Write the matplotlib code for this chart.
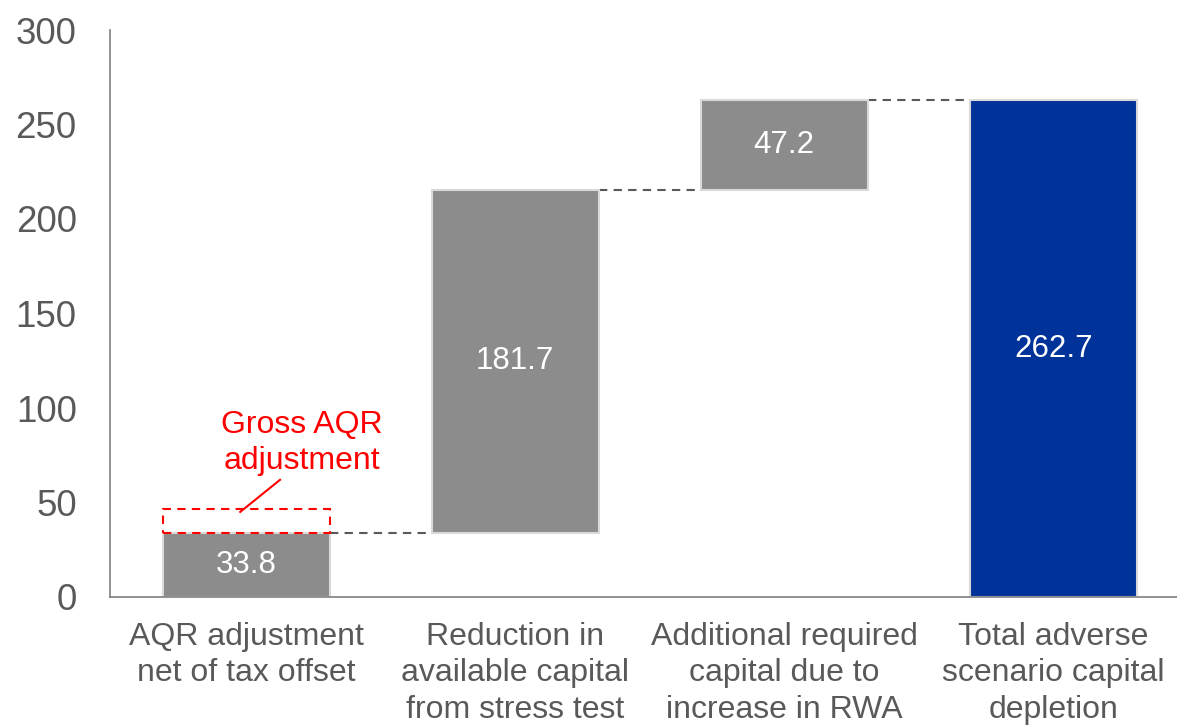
import matplotlib.pyplot as plt
import numpy as np

plt.rcParams['font.family'] = ['Liberation Sans', 'DejaVu Sans']

categories = ["AQR adjustment\nnet of tax offset",
              "Reduction in\navailable capital\nfrom stress test",
              "Additional required\ncapital due to\nincrease in RWA",
              "Total adverse\nscenario capital\ndepletion"]
steps = [33.8, 181.7, 47.2]
total = 262.7
gross_aqr = 46.5
gross_label = "Gross AQR\nadjustment"

grey = "#8c8c8c"
blue = "#003399"
text_grey = "#595959"

bottoms = np.concatenate([[0], np.cumsum(steps)[:-1]])
tops = bottoms + np.array(steps)
heights = list(steps) + [total]
bases = list(bottoms) + [0]
colors = [grey] * len(steps) + [blue]

x = np.arange(len(categories))
w = 0.62

fig = plt.figure(figsize=(11.77, 7.25), dpi=100)
ax = fig.add_axes([110 / 1177, 1 - 597 / 725, 1 - 110 / 1177, (597 - 30) / 725])

ax.bar(x, heights, w, bottom=bases, color=colors, edgecolor="#d9d9d9", linewidth=1.5, zorder=2)

for xi, b, h in zip(x, bases, heights):
    ax.text(xi, b + h / 2, f"{h:.1f}", ha="center", va="center", color="white", fontsize=22.5)

# connectors between bars
levels = list(tops)
for i, lv in enumerate(levels):
    ax.plot([x[i] + w / 2, x[i + 1] - w / 2], [lv, lv], ls=(0, (4, 3)), color=text_grey, lw=1.5, zorder=1)

# gross AQR dashed box
ax.add_patch(plt.Rectangle((x[0] - w / 2, steps[0]), w, gross_aqr - steps[0], fill=False,
                           edgecolor="red", ls=(0, (4, 3)), lw=1.5, zorder=3))
ax.plot([-0.022, 0.126], [45, 62], color="red", lw=1.5)
ax.text(0.208, 81.5, gross_label, ha="center", va="center", color="red", fontsize=23, linespacing=1.28)

ax.set_xlim(-0.506, 3.46)
ax.set_ylim(0, 300)
ax.set_yticks(np.arange(0, 301, 50))
ax.set_xticks(x)
ax.set_xticklabels(categories, linespacing=1.28)
ax.tick_params(axis="y", length=0, pad=24, labelsize=26.5, labelcolor=text_grey)
ax.tick_params(axis="x", length=0, pad=18, labelsize=23, labelcolor=text_grey)
for s in ["top", "right"]:
    ax.spines[s].set_visible(False)
for s in ["left", "bottom"]:
    ax.spines[s].set_color("#808080")
    ax.spines[s].set_linewidth(1.2)

fig.savefig("out.png", dpi=100)
